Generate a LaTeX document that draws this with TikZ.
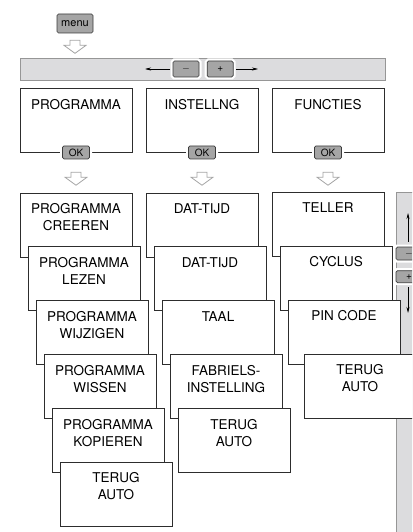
\documentclass[tikz,border=0pt]{standalone}
\usepackage{fontspec}
\setmainfont{TeX Gyre Heros}
\usetikzlibrary{arrows.meta, positioning}
\definecolor{boxedge}{RGB}{45,45,45}
\definecolor{keyfill}{RGB}{165,165,165}
\definecolor{keyedge}{RGB}{60,60,60}
\definecolor{barfill}{RGB}{220,220,222}
\definecolor{baredge}{RGB}{150,150,150}
\definecolor{hollowedge}{RGB}{165,165,165}

\tikzset{
    menubox/.style={draw=boxedge, fill=white, line width=0.8pt, minimum width=112, minimum height=64, inner sep=0},
    boxtext/.style={anchor=north, align=center, inner sep=0, font=\fontsize{13.5}{17}\selectfont},
    key/.style={draw=keyedge, fill=keyfill, rounded corners=1.5pt, line width=0.7pt, inner sep=0,
        minimum width=27, minimum height=13, font=\fontsize{10}{12}\selectfont,
        preaction={draw=white, line width=5pt}},
    bar/.style={draw=baredge, fill=barfill, line width=0.7pt, inner sep=0},
    keyarrow/.style={line width=0.6pt, -{Stealth[length=6pt,width=3pt]}},
    hollow/.style={draw=hollowedge, fill=white, line width=0.8pt, line join=miter}
}

\begin{document}
\begin{tikzpicture}[x=1pt, y=-1pt]
    \path[use as bounding box] (0,0) rectangle (412,532);
    \clip (0,0) rectangle (412,532);

    % menu key
    \node[key, minimum width=36, minimum height=19, font=\fontsize{11}{13}\selectfont] (menu) at (75,23.5) {menu};
    \coordinate[below=7pt of menu] (mdown);
    \draw[hollow] (mdown) ++(-5,0) -- ++(10,0) -- ++(0,5) -- ++(6,0) -- ++(-11,8) -- ++(-11,-8) -- ++(6,0) -- cycle;

    % horizontal bar
    \node[bar, minimum width=365, minimum height=22] (hbar) at (202.5,69) {};
    \node[key, minimum width=26, minimum height=16] (minus) at (186,69) {$-$};
    \node[key, minimum width=26, minimum height=16, right=7.5pt of minus] (plus) {+};
    \coordinate (hleft) at (145,69);
    \coordinate (hright) at (258,69);
    \draw[keyarrow, shorten <=2.5pt] (minus.west) -- (hleft);
    \draw[keyarrow, shorten <=2.5pt] (plus.east) -- (hright);

    % top row
    \foreach \i/\name in {0/PROGRAMMA, 1/INSTELLNG, 2/FUNCTIES} {
        \pgfmathsetmacro\xpos{76+126*\i}
        \node[menubox] (top\i) at (\xpos,120) {};
        \node[boxtext, below=12pt of top\i.north] (toptxt\i) {\name};
        \node[key] (ok\i) at (top\i.south) {OK};
        \coordinate[below=13pt of ok\i] (okdown\i);
        \draw[hollow] (okdown\i) ++(-5,0) -- ++(10,0) -- ++(0,5) -- ++(6,0) -- ++(-11,8) -- ++(-11,-8) -- ++(6,0) -- cycle;
    }

    % side bar
    \node[bar, minimum width=26, minimum height=353] (vbar) at (409,368.5) {};
    \node[key, minimum width=26, minimum height=13] (vminus) at (409,253.5) {$-$};
    \node[key, minimum width=26, minimum height=12, below=10pt of vminus] (vplus) {+};
    \coordinate (vup) at (408,213);
    \coordinate (vdown) at (408,313);
    \draw[keyarrow, shorten <=5pt] (vminus.north -| vup) -- (vup);
    \draw[keyarrow, shorten <=4pt] (vplus.south -| vdown) -- (vdown);

    % PROGRAMMA column
    \foreach \i/\txt in {0/{PROGRAMMA\\CREEREN}, 1/{PROGRAMMA\\LEZEN}, 2/{PROGRAMMA\\WIJZIGEN},
                         3/{PROGRAMMA\\WISSEN}, 4/{PROGRAMMA\\KOPIEREN}, 5/{TERUG\\AUTO}} {
        \pgfmathsetmacro\xpos{76+8*\i}
        \pgfmathsetmacro\ypos{225+53.8*\i}
        \node[menubox] (prg\i) at (\xpos,\ypos) {};
        \node[boxtext, below=11pt of prg\i.north] (prgtxt\i) {\txt};
    }

    % INSTELLNG column
    \foreach \i/\txt in {0/DAT-TIJD, 1/DAT-TIJD, 2/TAAL, 3/{FABRIELS-\\INSTELLING}, 4/{TERUG\\AUTO}} {
        \pgfmathsetmacro\xpos{202+8*\i}
        \pgfmathsetmacro\ypos{225+53.8*\i}
        \node[menubox] (ins\i) at (\xpos,\ypos) {};
        \node[boxtext, below=11pt of ins\i.north] (instxt\i) {\txt};
    }

    % FUNCTIES column
    \foreach \i/\dx/\txt in {0/0/TELLER, 1/8/CYCLUS, 2/16/PIN CODE, 3/32/{TERUG\\AUTO}} {
        \pgfmathsetmacro\xpos{328+\dx}
        \pgfmathsetmacro\ypos{224+54*\i}
        \node[menubox] (fun\i) at (\xpos,\ypos) {};
        \node[boxtext, below=11pt of fun\i.north] (funtxt\i) {\txt};
    }
\end{tikzpicture}
\end{document}
